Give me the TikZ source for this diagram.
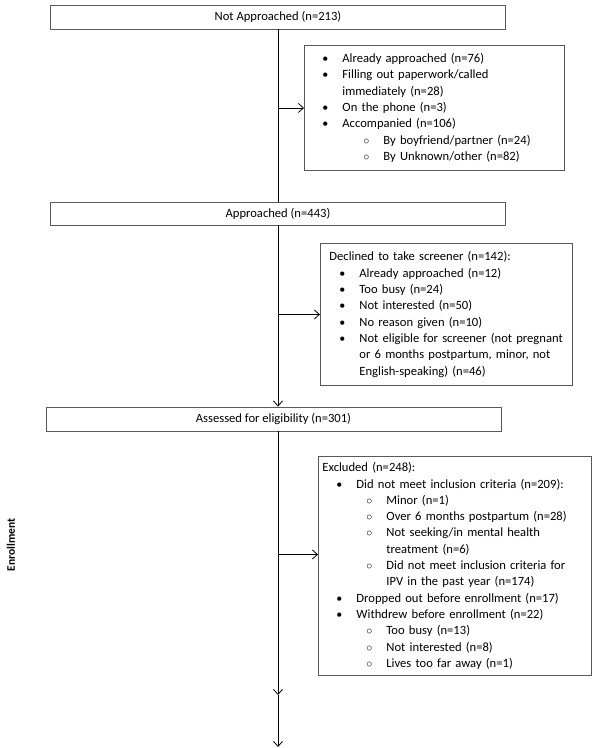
\documentclass[tikz,border=0pt]{standalone}
\usepackage{fontspec}
\setmainfont{Carlito}
\usetikzlibrary{arrows.meta}
\newcommand{\dotitem}[2]{\hspace*{#1}\makebox[0pt]{\large\textbullet}\hspace*{17pt}#2}
\newcommand{\ringitem}[2]{\hspace*{#1}\makebox[0pt]{$\circ$}\hspace*{17pt}#2}

\begin{document}
\begin{tikzpicture}[x=1pt,y=-1pt,
  flow_box/.style={shape=rectangle,draw=black!65,line width=0.9pt,inner sep=0pt,font=\fontsize{12.6}{16.3}\selectfont},
  side_box/.style={flow_box,anchor=north west,align=left},
  flow_arrow/.style={-{Straight Barb[length=5pt,width=9pt]},line width=0.8pt}]
\useasboundingbox (0,0) rectangle (596,748);
\node[flow_box,minimum width=455pt,minimum height=24pt] (not_appr) at (278,17) {Not Approached (n=213)};
\node[side_box,text width=260pt,minimum height=125pt] (reasons_na) at (304,45) {
\dotitem{21pt}{Already approached (n=76)}\\
\dotitem{21pt}{Filling out paperwork/called}\\
\hspace*{38pt}immediately (n=28)\\
\dotitem{21pt}{On the phone (n=3)}\\
\dotitem{21pt}{Accompanied (n=106)}\\
\ringitem{62pt}{By boyfriend/partner (n=24)}\\
\ringitem{62pt}{By Unknown/other (n=82)}};
\node[flow_box,minimum width=455pt,minimum height=23pt] (appr) at (278,213.5) {Approached (n=443)};
\node[side_box,text width=252pt,minimum height=142pt] (declined) at (320,243) {
\hspace*{9pt}Declined to take screener (n=142):\\
\dotitem{22pt}{Already approached (n=12)}\\
\dotitem{22pt}{Too busy (n=24)}\\
\dotitem{22pt}{Not interested (n=50)}\\
\dotitem{22pt}{No reason given (n=10)}\\
\dotitem{22pt}{Not eligible for screener (not pregnant}\\
\hspace*{39pt}or 6 months postpartum, minor, not\\
\hspace*{39pt}English-speaking) (n=46)};
\node[flow_box,minimum width=455pt,minimum height=24pt] (assess) at (273.5,419) {Assessed for eligibility (n=301)};
\node[side_box,text width=273pt,minimum height=219pt] (excluded) at (318,456) {
\hspace*{4pt}Excluded (n=248):\\
\dotitem{21pt}{Did not meet inclusion criteria (n=209):}\\
\ringitem{51pt}{Minor (n=1)}\\
\ringitem{51pt}{Over 6 months postpartum (n=28)}\\
\ringitem{51pt}{Not seeking/in mental health}\\
\hspace*{68pt}treatment (n=6)\\
\ringitem{51pt}{Did not meet inclusion criteria for}\\
\hspace*{68pt}IPV in the past year (n=174)\\
\dotitem{21pt}{Dropped out before enrollment (n=17)}\\
\dotitem{21pt}{Withdrew before enrollment (n=22)}\\
\ringitem{51pt}{Too busy (n=13)}\\
\ringitem{51pt}{Not interested (n=8)}\\
\ringitem{51pt}{Lives too far away (n=1)}};
\node[font=\fontsize{11.5}{14}\selectfont\bfseries,rotate=90] (enroll_lbl) at (11,545) {Enrollment};
\coordinate (mid_tip) at (278,695);
\coordinate (last_tip) at (278,747);

\draw[line width=0.8pt] (not_appr.south) -- (appr.north);
\draw[flow_arrow] (not_appr.south |- reasons_na.west) -- (reasons_na.west);
\draw[flow_arrow] (appr.south) -- (appr.south |- assess.north);
\draw[flow_arrow] (appr.south |- declined.west) -- (declined.west);
\draw[flow_arrow] (appr.south |- assess.south) -- (mid_tip);
\draw[flow_arrow] (appr.south |- excluded.west) ++(0,-11.5) -- ([yshift=11.5pt]excluded.west);
\draw[flow_arrow] (mid_tip) -- (last_tip);
\end{tikzpicture}
\end{document}
